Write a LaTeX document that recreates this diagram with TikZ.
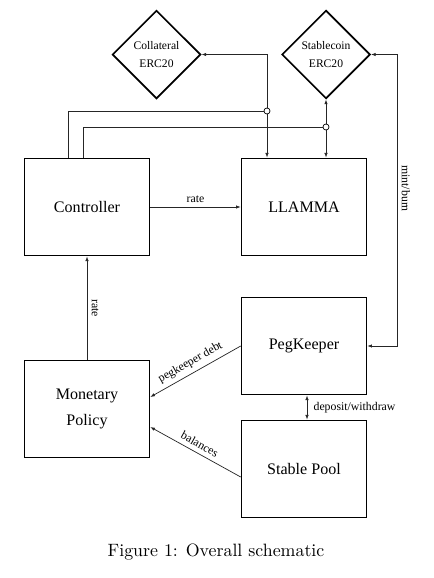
\documentclass[tikz,border=0pt]{standalone}
\usepackage{fontspec}
\usetikzlibrary{shapes.geometric, arrows.meta, calc}
\newfontfamily\timesfont{Liberation Serif}

\begin{document}
\begin{tikzpicture}[x = 0.56pt, y = -0.56pt, >={Latex[length=2.6pt, width=1.9pt]},
	block/.style = {draw, line width = 0.9pt, minimum width = 70pt, minimum height = 54.4pt, align = center, font = \timesfont\fontsize{9}{15}\selectfont},
	token/.style = {draw, diamond, line width = 0.9pt, minimum width = 49.5pt, minimum height = 49.5pt, inner sep = 0pt, align = center, font = \timesfont\fontsize{6.5}{10.5}\selectfont},
	hop/.style = {draw, circle, fill = white, inner sep = 0pt, minimum size = 3.4pt, line width = 0.4pt},
	link/.style = {line width = 0.4pt, black!85},
	lbl/.style = {font = \timesfont\fontsize{6.6}{8}\selectfont, inner sep = 2.5pt, black}]
	\useasboundingbox (0,0) rectangle (434,578);
	
	\node[token] (coll) at (156.5,54.5) {Collateral\\ERC20};
	\node[token] (stab) at (326,54.5) {Stablecoin\\ERC20};
	
	\node[block] (ctrl) at (87,207) {Controller};
	\node[block] (llamma) at (304,207) {LLAMMA};
	\node[block] (peg) at (304,346) {PegKeeper};
	\node[block] (mon) at (87,409) {Monetary\\Policy};
	\node[block] (pool) at (304,469) {Stable Pool};
	
	\coordinate (cin) at ($(llamma.north)+(-37,0)$);
	\draw[link, <->] (coll.east) -| (cin);
	\draw[link, <->] (stab.south) -- (stab.south |- llamma.north);
	
	\node[hop] (j1) at (267,111) {};
	\node[hop] (j2) at (326,127) {};
	\draw[link] ($(ctrl.north)+(-19,0)$) |- (j1);
	\draw[link] ($(ctrl.north)+(-4,0)$) |- (j2);
	
	\draw[link, <->] (stab.east) -- ++(26,0) |- node[lbl, pos = 0.23, rotate = -90, anchor = south] {mint/burn} (peg.east);
	
	\draw[link, ->] (ctrl.east) -- (llamma.west) node[lbl, midway, above] {rate};
	\draw[link, ->] (mon.north) -- (ctrl.south) node[lbl, midway, rotate = -90, anchor = south] {rate};
	
	\draw[link, <-] ($(mon.east)+(0,-12)$) -- (peg.west) node[lbl, midway, above, sloped] {pegkeeper debt};
	\draw[link, <-] ($(mon.east)+(0,18)$) -- ($(pool.west)+(0,8)$) node[lbl, midway, above, sloped] {balances};
	\draw[link, <->] ($(peg.south)+(3,0)$) -- ($(pool.north)+(3,0)$) node[lbl, midway, right, inner sep = 3.5pt] {deposit/withdraw};
	
	\node (cap) at (216,552) {Figure 1: Overall schematic};
	
\end{tikzpicture}
\end{document}
